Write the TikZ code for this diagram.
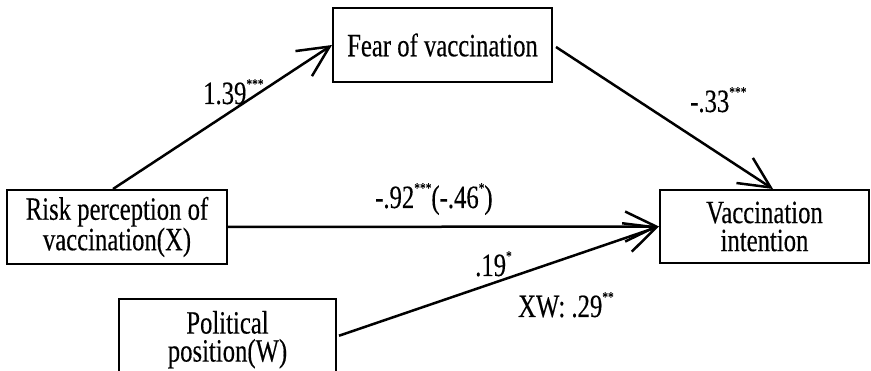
\documentclass[tikz,border=0pt]{standalone}
\usepackage{fontspec}
\setmainfont{Liberation Serif}[FakeStretch=0.76,FakeBold=0.3]
\usetikzlibrary{arrows.meta,calc}
\newcommand\sigstars[1]{\raisebox{15pt}{\fontsize{15}{15}\selectfont #1}}
\begin{document}
\begin{tikzpicture}[x=1pt,y=-1pt,
  box/.style={draw,line width=2pt,inner sep=0pt,align=center,font=\fontsize{32.5}{28}\selectfont},
  lbl/.style={inner sep=0pt,anchor=base west,font=\fontsize{32.5}{28}\selectfont},
  arr/.style={line width=2.5pt,-{Straight Barb[length=31pt,width=30pt]}}]
\clip (0,0) rectangle (871,371);
\node[box,minimum width=219pt,minimum height=74pt] (fear) at (442.5,45) {Fear of vaccination};
\node[box,minimum width=209pt,minimum height=73pt] (vi) at (764.5,226.5) {Vaccination\\intention};
\node[box,minimum width=220pt,minimum height=74pt] (risk) at (117,227) {Risk perception of\\vaccination(X)};
\node[box,minimum width=217pt,inner ysep=12pt,anchor=north] (pol) at (227.5,298) {Political\\position(W)};
\draw[arr] ($(risk.north)+(-4,0)$) -- (fear.west);
\draw[arr] ($(fear.east)+(3,2)$) -- ($(vi.north)+(8.5,0)$);
\draw[arr] (risk.east) -- (vi.west);
\draw[arr] ($(pol.east)+(2,-4)$) -- (vi.west);
\node[lbl] (l1) at (203,104) {1.39\sigstars{***}};
\node[lbl] (l2) at (690,112) {-.33\sigstars{***}};
\node[lbl] (l3) at (375,208) {-.92\sigstars{***}(-.46\sigstars{*})};
\node[lbl] (l4) at (475,276) {.19\sigstars{*}};
\node[lbl] (l5) at (518,317) {XW: .29\sigstars{**}};
\end{tikzpicture}
\end{document}
